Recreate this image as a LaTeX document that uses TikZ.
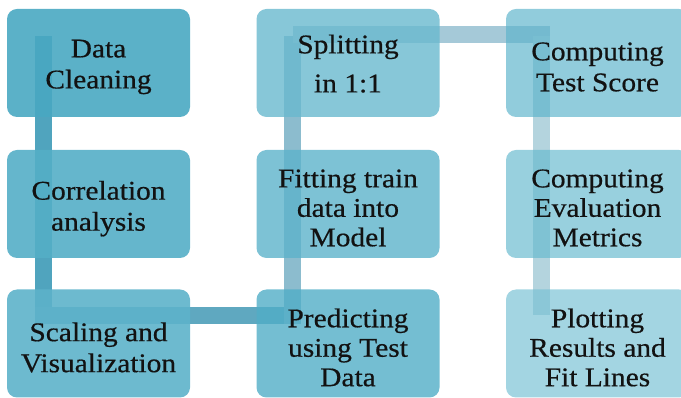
\documentclass[tikz,border=0pt]{standalone}
\usepackage{fontspec}
\setmainfont[FakeStretch=1.09,FakeBold=0.5]{Liberation Serif}
\definecolor{bA}{RGB}{73,168,194}
\definecolor{bB}{RGB}{84,174,198}
\definecolor{bC}{RGB}{93,178,202}
\definecolor{bD}{RGB}{81,174,199}
\definecolor{bE}{RGB}{93,179,203}
\definecolor{bF}{RGB}{105,185,206}
\definecolor{bG}{RGB}{93,180,204}
\definecolor{bH}{RGB}{103,186,207}
\definecolor{bI}{RGB}{120,193,212}
\definecolor{cA}{RGB}{80,164,190}
\definecolor{cB}{RGB}{95,168,192}
\definecolor{cC}{RGB}{140,188,206}
\definecolor{cD}{RGB}{165,201,216}
\definecolor{cE}{RGB}{180,212,222}
\begin{document}
\begin{tikzpicture}[x=0.75pt,y=-0.75pt,
  box/.style={rectangle, rounded corners=7.5pt, minimum width=137.25pt,
    minimum height=81pt, inner sep=0pt},
  txt/.style={inner sep=0pt, align=center, text=black!93},
  two/.style={txt, font=\fontsize{20.25pt}{23.25pt}\selectfont},
  wide/.style={txt, font=\fontsize{20.25pt}{29.25pt}\selectfont},
  three/.style={txt, font=\fontsize{20.25pt}{22.1pt}\selectfont},
  colA/.style={fill opacity=0.9},
  colB/.style={fill opacity=0.8},
  colC/.style={fill opacity=0.68},
  bar/.style={line width=12.75pt, line cap=butt}]
\useasboundingbox (0,0) rectangle (681,398);
\clip (0,0) rectangle (681,398);
% connector end points
\coordinate (a1) at (43.5,36);
\coordinate (a2) at (43.5,324);
\coordinate (b1) at (35,316);
\coordinate (b2) at (301,316);
\coordinate (c1) at (292.5,324);
\coordinate (c2) at (292.5,36);
\coordinate (d1) at (293,35);
\coordinate (d2) at (550,35);
\coordinate (e1) at (541.5,36);
\coordinate (e2) at (541.5,315);
% connectors (behind the boxes)
\draw[bar, cA] (a1) -- (a2);
\draw[bar, cB] (b1) -- (b2);
\draw[bar, cC] (c1) -- (c2);
\draw[bar, cD] (d1) -- (d2);
\draw[bar, cE] (e1) -- (e2);
% boxes
\node[box, colA, fill=bA] (dc) at (98.5,63) {};
\node[box, colA, fill=bB] (ca) at (98.5,204) {};
\node[box, colA, fill=bC] (sv) at (98.5,343.5) {};
\node[box, colB, fill=bD] (pt) at (348,343.5) {};
\node[box, colB, fill=bE] (ft) at (348,204) {};
\node[box, colB, fill=bF] (sp) at (348,63) {};
\node[box, colC, fill=bG] (ct) at (597.5,63) {};
\node[box, colC, fill=bH] (ce) at (597.5,204) {};
\node[box, colC, fill=bI] (pr) at (597.5,343.5) {};
% texts
\node[two] (dct) at ([yshift=-3pt]dc.center) {Data\\Cleaning};
\node[two] (cat) at ([yshift=-3.5pt]ca.center) {Correlation\\analysis};
\node[two] (svt) at ([yshift=-3pt]sv.center) {Scaling and\\Visualization};
\node[three] (ptt) at ([yshift=-3pt]pt.center) {Predicting\\using Test\\Data};
\node[three] (ftt) at ([yshift=-3pt]ft.center) {Fitting train\\data into\\Model};
\node[wide] (spt) at ([yshift=-0.5pt]sp.center) {Splitting\\in 1:1};
\node[two] (ctt) at ([yshift=-3pt]ct.center) {Computing\\Test Score};
\node[three] (cet) at ([yshift=-3pt]ce.center) {Computing\\Evaluation\\Metrics};
\node[three] (prt) at ([yshift=-3pt]pr.center) {Plotting\\Results and\\Fit Lines};
\end{tikzpicture}
\end{document}
